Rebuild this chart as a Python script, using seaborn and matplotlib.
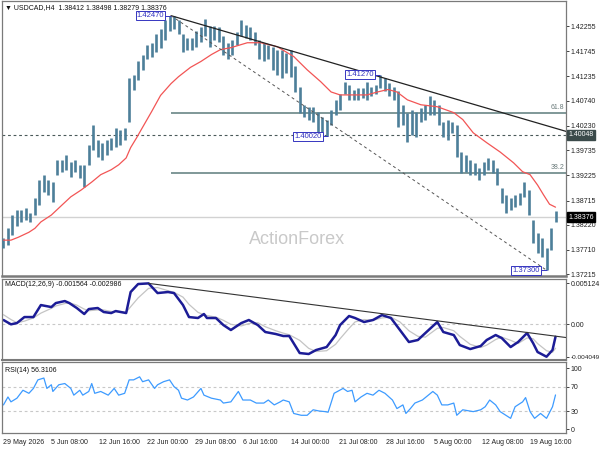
import numpy as np
import seaborn as sns
import matplotlib.pyplot as plt
import matplotlib.transforms as mtrans

# ---- price bars (every 3rd H4 bar) ----
bar_hi = [1.3795, 1.3816, 1.3842, 1.3852, 1.3852, 1.3856, 1.3846, 1.3877, 1.3913, 1.3924,
          1.3913, 1.3909, 1.3954, 1.3954, 1.3964, 1.3950, 1.3954, 1.3944, 1.3944, 1.3985,
          1.4025, 1.3995, 1.3989, 1.3995, 1.3999, 1.4019, 1.4015, 1.4019, 1.4121, 1.4127,
          1.4154, 1.4168, 1.4188, 1.4192, 1.4209, 1.4219, 1.4239, 1.4247, 1.4247, 1.4239,
          1.4209, 1.4202, 1.4202, 1.4215, 1.4223, 1.4240, 1.4225, 1.4225, 1.4223, 1.4205,
          1.4192, 1.4198, 1.4213, 1.4239, 1.4229, 1.4223, 1.4213, 1.4198, 1.4192, 1.4188,
          1.4184, 1.4178, 1.4178, 1.4172, 1.4178, 1.4144, 1.4103, 1.4066, 1.4062, 1.4062,
          1.4052, 1.4042, 1.4036, 1.4056, 1.4076, 1.4087, 1.4113, 1.4107, 1.4097, 1.4101,
          1.4101, 1.4113, 1.4103, 1.4107, 1.4127, 1.4121, 1.4111, 1.4103, 1.4093, 1.4066,
          1.4050, 1.4056, 1.4052, 1.4060, 1.4066, 1.4083, 1.4076, 1.4066, 1.4032, 1.4036,
          1.4030, 1.4025, 1.3971, 1.3964, 1.3954, 1.3948, 1.3938, 1.3950, 1.3958, 1.3954,
          1.3938, 1.3897, 1.3883, 1.3877, 1.3883, 1.3887, 1.3909, 1.3893, 1.3832, 1.3806,
          1.3795, 1.3775, 1.3816, 1.3850]
bar_lo = [1.3775, 1.3781, 1.3801, 1.3820, 1.3828, 1.3832, 1.3828, 1.3842, 1.3862, 1.3889,
          1.3883, 1.3869, 1.3924, 1.3930, 1.3934, 1.3920, 1.3930, 1.3918, 1.3899, 1.3944,
          1.3975, 1.3960, 1.3954, 1.3964, 1.3975, 1.3981, 1.3985, 1.3995, 1.4030, 1.4097,
          1.4117, 1.4137, 1.4158, 1.4164, 1.4174, 1.4182, 1.4198, 1.4215, 1.4219, 1.4209,
          1.4174, 1.4178, 1.4178, 1.4184, 1.4194, 1.4205, 1.4184, 1.4198, 1.4194, 1.4168,
          1.4158, 1.4168, 1.4188, 1.4205, 1.4202, 1.4198, 1.4188, 1.4158, 1.4154, 1.4158,
          1.4137, 1.4127, 1.4121, 1.4131, 1.4123, 1.4091, 1.4050, 1.4042, 1.4036, 1.4032,
          1.4011, 1.4011, 1.4002, 1.4025, 1.4046, 1.4056, 1.4087, 1.4076, 1.4076, 1.4076,
          1.4080, 1.4076, 1.4083, 1.4087, 1.4101, 1.4093, 1.4083, 1.4076, 1.4021, 1.4025,
          1.3991, 1.4005, 1.4001, 1.4030, 1.4036, 1.4046, 1.4046, 1.4025, 1.4001, 1.3995,
          1.4009, 1.3960, 1.3928, 1.3930, 1.3924, 1.3924, 1.3913, 1.3924, 1.3934, 1.3928,
          1.3903, 1.3867, 1.3846, 1.3852, 1.3858, 1.3862, 1.3879, 1.3842, 1.3785, 1.3765,
          1.3757, 1.3730, 1.3771, 1.3828]

# red moving average
ma_bar = [0, 5, 10, 17, 21, 25, 32, 39, 45, 52, 59, 65, 72, 77, 82, 85, 89, 92, 99, 105,
          112, 117, 125, 132, 139, 145, 152, 163, 172, 183, 194, 203, 212, 219, 225, 234,
          243, 250, 257, 263, 270, 279, 290, 301, 307, 314, 323, 332, 341, 347, 352, 357,
          361, 365, 369]
ma_val = [1.3791, 1.3791, 1.3797, 1.3807, 1.3815, 1.3828, 1.3842, 1.3862, 1.3879, 1.3893,
          1.3909, 1.3924, 1.3934, 1.3944, 1.3958, 1.3979, 1.3999, 1.4015, 1.4052, 1.4085,
          1.4109, 1.4123, 1.4142, 1.4154, 1.4168, 1.4178, 1.4182, 1.4192, 1.4192, 1.4184,
          1.4164, 1.4137, 1.4113, 1.4092, 1.4086, 1.4086, 1.4086, 1.4092, 1.4097, 1.4092,
          1.4076, 1.4066, 1.4062, 1.4050, 1.4036, 1.4009, 1.3989, 1.3970, 1.3948, 1.3930,
          1.3924, 1.3903, 1.3883, 1.3864, 1.3858]

# MACD(12,26,9)
macd_bar = [0, 5, 9, 14, 20, 25, 32, 35, 41, 44, 49, 54, 57, 63, 67, 72, 75, 82, 85, 90,
            97, 103, 110, 114, 120, 124, 130, 134, 136, 142, 147, 152, 159, 164, 170, 175,
            182, 187, 191, 198, 204, 209, 216, 222, 225, 231, 235, 241, 247, 253, 259, 265,
            271, 277, 282, 290, 294, 301, 305, 312, 319, 323, 329, 333, 339, 344, 350, 354,
            357, 363, 367, 369]
macd_main = [0.00054, 0.00000, 0.00016, 0.00091, 0.00091, 0.00241, 0.00216, 0.00266, 0.00291, 0.00266,
             0.00204, 0.00129, 0.00191, 0.00204, 0.00154, 0.00141, 0.00166, 0.00141, 0.00404, 0.00504,
             0.00512, 0.00391, 0.00404, 0.00391, 0.00241, 0.00091, 0.00079, 0.00129, 0.00079, 0.00079,
             -0.00009, -0.00071, 0.00016, 0.00054, -0.00009, -0.00096, -0.00121, -0.00146, -0.00146, -0.00359,
             -0.00371, -0.00321, -0.00284, -0.00134, -0.00009, 0.00104, 0.00079, 0.00029, 0.00054, 0.00116,
             0.00079, -0.00071, -0.00221, -0.00196, -0.00109, 0.00029, -0.00096, -0.00134, -0.00259, -0.00309,
             -0.00271, -0.00196, -0.00134, -0.00171, -0.00284, -0.00221, -0.00109, -0.00234, -0.00346, -0.00405,
             -0.00321, -0.00156]
macd_signal = [0.00120, 0.00060, 0.00020, 0.00040, 0.00080, 0.00140, 0.00200, 0.00230, 0.00260, 0.00270,
               0.00240, 0.00190, 0.00170, 0.00180, 0.00180, 0.00160, 0.00160, 0.00150, 0.00220, 0.00330,
               0.00450, 0.00460, 0.00420, 0.00400, 0.00340, 0.00250, 0.00150, 0.00120, 0.00110, 0.00090,
               0.00050, 0.00000, -0.00020, 0.00010, 0.00020, -0.00030, -0.00080, -0.00110, -0.00130, -0.00200,
               -0.00300, -0.00340, -0.00330, -0.00250, -0.00180, -0.00050, 0.00030, 0.00060, 0.00050, 0.00080,
               0.00090, 0.00030, -0.00080, -0.00150, -0.00160, -0.00050, -0.00040, -0.00080, -0.00150, -0.00250,
               -0.00290, -0.00260, -0.00190, -0.00160, -0.00200, -0.00240, -0.00170, -0.00180, -0.00240, -0.00330,
               -0.00350, -0.00299]

# RSI(14)
rsi_bar = [0, 3, 5, 9, 13, 17, 20, 23, 27, 29, 32, 33, 37, 41, 45, 47, 51, 53, 57, 59,
           61, 65, 70, 74, 77, 81, 84, 87, 91, 93, 97, 101, 103, 107, 111, 114, 117, 119, 123, 127,
           132, 134, 139, 145, 147, 152, 157, 160, 165, 169, 174, 177, 181, 185, 187, 191, 194, 199, 203, 207,
           211, 215, 217, 221, 227, 230, 233, 235, 239, 243, 247, 251, 255, 260, 263, 267, 269, 272, 275, 280,
           287, 290, 293, 297, 301, 303, 307, 314, 319, 322, 325, 329, 332, 339, 342, 347, 349, 352, 355, 359,
           363, 367, 369]
rsi_val = [40, 53, 45, 51, 64, 59, 67, 81, 84, 67, 73, 62, 73, 75, 67, 56, 64, 56, 62, 75,
           59, 62, 56, 67, 56, 59, 81, 81, 86, 78, 81, 67, 73, 78, 81, 70, 64, 51, 48, 53,
           67, 56, 51, 48, 43, 45, 62, 48, 48, 43, 43, 48, 40, 45, 48, 45, 26, 23, 23, 32,
           30, 29, 28, 59, 67, 62, 64, 45, 53, 59, 56, 64, 59, 48, 34, 40, 26, 34, 43, 48,
           62, 56, 40, 40, 43, 23, 32, 29, 32, 37, 48, 40, 29, 18, 37, 45, 52, 29, 18, 26,
           18, 37, 56.31]

# annotations
trend_x = [112, 376]
trend_y = [1.4247, 1.4012]
chan_x = [112, 363]
chan_y = [1.4247, 1.3730]
macd_trend_x = [97, 376]
macd_trend_y = [0.00512, -0.00165]
fib_levels = [1.4050, 1.3928]
fib_names = ["61.8", "38.2"]
swing_bar = [112, 252, 217, 363]
swing_price = [1.42470, 1.41270, 1.40020, 1.37300]
last_price = 1.38376
hline_price = 1.40048

price_ticks = [1.42255, 1.41745, 1.41235, 1.40740, 1.40230, 1.39735, 1.39225,
               1.38715, 1.38220, 1.37710, 1.37215]
date_ticks = [0, 32, 64, 96, 128, 160, 192, 224, 256, 288, 320, 352]
date_labels = ["29 May 2026", "5 Jun 08:00", "12 Jun 16:00", "22 Jun 00:00", "29 Jun 08:00",
               "6 Jul 16:00", "14 Jul 00:00", "21 Jul 08:00", "28 Jul 16:00", "5 Aug 00:00",
               "12 Aug 08:00", "19 Aug 16:00"]

sns.set_style("white")
plt.rcParams['font.family'] = ['Liberation Sans', 'DejaVu Sans']
FS = 5

fig = plt.figure(figsize=(6, 4.5), dpi=100)
ax = fig.add_axes([0.0033, 0.3856, 0.94, 0.6111])
ax_macd = fig.add_axes([0.0033, 0.2, 0.94, 0.1811])
ax_rsi = fig.add_axes([0.0033, 0.0378, 0.94, 0.1567])

for a in (ax, ax_macd, ax_rsi):
    a.set_xlim(-1, 376)
    for s in a.spines.values():
        s.set_color('#7a7a7a')
        s.set_linewidth(0.9)
    a.yaxis.tick_right()
    a.tick_params(axis='y', direction='out', length=2, width=0.6, pad=1.2,
                  labelsize=FS, colors='#222222')
    a.set_xlabel('')
    a.set_ylabel('')
ax.spines['bottom'].set_linewidth(1.8)
ax_macd.spines['bottom'].set_linewidth(1.5)

# ---- main price panel ----
bar_x = np.arange(len(bar_hi)) * 3
ax.vlines(bar_x, bar_lo, bar_hi, color='#4d7f99', linewidth=1.9, zorder=3)
sns.lineplot(x=ma_bar, y=ma_val, ax=ax, color='#f25555', linewidth=0.9, zorder=4)

ax.axhline(last_price, color='#d2d2d2', linewidth=1.0, zorder=1)
ax.axhline(hline_price, color='#4a5a5a', linewidth=0.8, dashes=(2.5, 2.5), zorder=2)
for lv, nm in zip(fib_levels, fib_names):
    ax.hlines(lv, 112, 376, color='#7f9898', linewidth=1.4, zorder=2)
    ax.text(375, lv + 0.0003, nm, ha='right', va='bottom', fontsize=FS, color='#6a7a7a')
ax.plot(trend_x, trend_y, color='#222222', linewidth=0.9, zorder=5)
ax.plot(chan_x, chan_y, color='#555555', linewidth=0.7, dashes=(3, 3), zorder=5)

for b, p in zip(swing_bar, swing_price):
    ax.hlines(p, b - 4, b, color='#3535c0', linewidth=0.7, zorder=6)
    ax.text(b - 4.5, p, f"{p:.5f}", ha='right', va='center', fontsize=5.5, color='#3030c0',
            zorder=7, bbox=dict(boxstyle='square,pad=0.15', fc='white', ec='#3535c0', lw=0.7))

ax.set_ylim(1.37172, 1.42758)
ax.set_yticks(price_ticks)
ax.set_yticklabels([f"{t:.5f}" for t in price_ticks])
ax.set_xticks([])

trans = mtrans.blended_transform_factory(ax.transAxes, ax.transData)
ax.text(1.004, hline_price, f"{hline_price:.5f}", transform=trans, ha='left', va='center',
        fontsize=FS, color='white', zorder=8, clip_on=False,
        bbox=dict(boxstyle='square,pad=0.2', fc='#3b4a4a', ec='#3b4a4a'))
ax.text(1.004, last_price, f"{last_price:.5f}", transform=trans, ha='left', va='center',
        fontsize=FS, color='white', zorder=8, clip_on=False,
        bbox=dict(boxstyle='square,pad=0.2', fc='black', ec='black'))

ax.text(0.006, 0.978, "\u25BC USDCAD,H4  1.38412 1.38498 1.38279 1.38376", transform=ax.transAxes,
        ha='left', va='center', fontsize=FS, color='#111111')
ax.text(0.523, 0.133, "ActionForex", transform=ax.transAxes, ha='center', va='center',
        fontsize=13, color='#c9c9c9', zorder=0)

# ---- MACD panel ----
ax_macd.axhline(0, color='#c8c8c8', linewidth=0.8, dashes=(2.5, 2.5))
sns.lineplot(x=macd_bar, y=macd_signal, ax=ax_macd, color='#c4c4c4', linewidth=0.9)
sns.lineplot(x=macd_bar, y=macd_main, ax=ax_macd, color='#1c1c96', linewidth=1.8)
ax_macd.plot(macd_trend_x, macd_trend_y, color='#333333', linewidth=0.8)
ax_macd.set_ylim(-0.00446, 0.00573)
ax_macd.set_yticks([0.005124, 0.0, -0.004049])
ax_macd.set_yticklabels(["0.005124", "0.00", "-0.004049"])
ax_macd.get_yticklabels()[2].set_fontsize(4.6)
ax_macd.set_xticks([])
ax_macd.text(0.006, 0.93, "MACD(12,26,9) -0.001564 -0.002986", transform=ax_macd.transAxes,
             ha='left', va='center', fontsize=FS, color='#111111')

# ---- RSI panel ----
for lv in (70, 30):
    ax_rsi.axhline(lv, color='#c8c8c8', linewidth=0.8, dashes=(2.5, 2.5))
sns.lineplot(x=rsi_bar, y=rsi_val, ax=ax_rsi, color='#3d9bff', linewidth=0.9)
ax_rsi.set_ylim(-6, 109.5)
ax_rsi.set_yticks([100, 70, 30, 0])
ax_rsi.set_yticklabels(["100", "70", "30", "0"])
ax_rsi.set_xticks(date_ticks)
ax_rsi.set_xticklabels(date_labels, ha='left')
ax_rsi.tick_params(axis='x', direction='out', length=3, width=0.6, pad=1.5,
                   labelsize=FS, colors='#222222')
ax_rsi.text(0.006, 0.89, "RSI(14) 56.3106", transform=ax_rsi.transAxes,
            ha='left', va='center', fontsize=FS, color='#111111')

fig.savefig("out.png", dpi=100)
